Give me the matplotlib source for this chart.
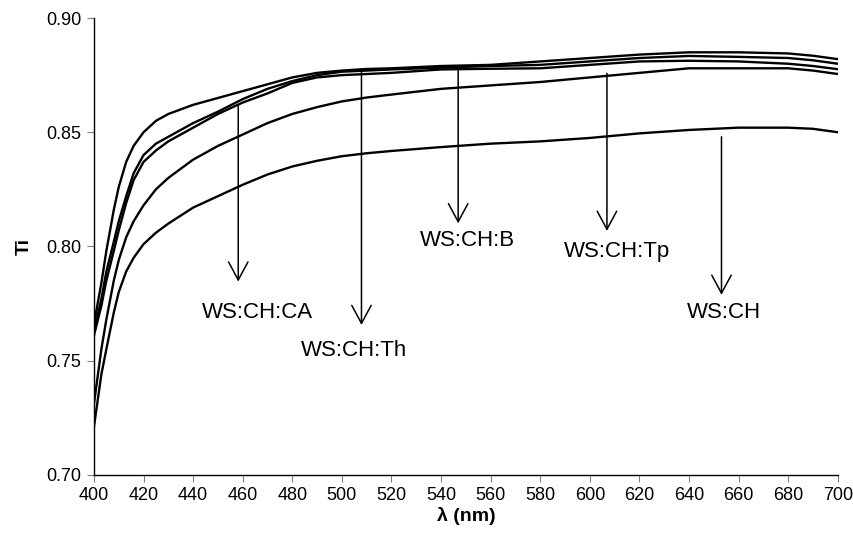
import matplotlib
matplotlib.use("Agg")
import matplotlib.pyplot as plt

plt.rcParams['font.family'] = ['Liberation Sans', 'DejaVu Sans']

# wavelength grid (nm)
wl = [400, 403, 405, 408, 410, 413, 416, 420, 425, 430, 440, 450, 460, 470,
      480, 490, 500, 510, 520, 540, 560, 580, 600, 620, 640, 660, 680, 690, 700]

ti_b = [0.766, 0.784, 0.798, 0.816, 0.826, 0.837, 0.844, 0.850, 0.855, 0.858,
        0.862, 0.865, 0.868, 0.871, 0.874, 0.876, 0.877, 0.8777, 0.878, 0.879,
        0.8795, 0.881, 0.8825, 0.884, 0.885, 0.885, 0.8845, 0.8835, 0.882]
ti_ca = [0.763, 0.777, 0.789, 0.802, 0.811, 0.822, 0.832, 0.840, 0.845, 0.848,
         0.854, 0.859, 0.8645, 0.869, 0.8724, 0.875, 0.8765, 0.877, 0.8775, 0.8783,
         0.879, 0.8795, 0.881, 0.8825, 0.8834, 0.883, 0.8825, 0.8815, 0.880]
ti_th = [0.761, 0.774, 0.785, 0.798, 0.807, 0.819, 0.829, 0.837, 0.842, 0.846,
         0.852, 0.858, 0.863, 0.867, 0.8716, 0.874, 0.875, 0.8755, 0.876, 0.8775,
         0.8778, 0.878, 0.8795, 0.881, 0.8813, 0.881, 0.880, 0.879, 0.8776]
ti_tp = [0.731, 0.755, 0.768, 0.785, 0.794, 0.804, 0.811, 0.818, 0.825, 0.830,
         0.838, 0.844, 0.849, 0.854, 0.858, 0.861, 0.8635, 0.8652, 0.8665, 0.869,
         0.8705, 0.872, 0.874, 0.876, 0.878, 0.878, 0.878, 0.877, 0.8755]
ti_ch = [0.721, 0.744, 0.755, 0.771, 0.780, 0.789, 0.795, 0.801, 0.806, 0.810,
         0.817, 0.822, 0.827, 0.8315, 0.835, 0.8375, 0.8395, 0.8408, 0.8418, 0.8435,
         0.845, 0.846, 0.8475, 0.8495, 0.851, 0.852, 0.852, 0.8515, 0.850]

# annotations: label, arrow x, arrow start y, arrow tip y, text x, text baseline y
labels = ['WS:CH:CA', 'WS:CH:Th', 'WS:CH:B', 'WS:CH:Tp', 'WS:CH']
arrow_x = [458.2, 507.9, 546.9, 606.9, 653.1]
arrow_y0 = [0.862, 0.8765, 0.8787, 0.8758, 0.848]
arrow_y1 = [0.7846, 0.7656, 0.8101, 0.8068, 0.7788]
text_x = [465.9, 504.8, 550.6, 611.1, 654.0]
text_y = [0.7687, 0.7518, 0.8000, 0.7955, 0.7686]

fig = plt.figure(figsize=(8.54, 5.47), dpi=100)
ax = fig.add_axes([0.110, 0.132, 0.871, 0.835])

for s in [ti_b, ti_ca, ti_th, ti_tp, ti_ch]:
    ax.plot(wl, s, color='black', lw=1.7, solid_joinstyle='round')

for lab, x, y0, y1, tx, ty in zip(labels, arrow_x, arrow_y0, arrow_y1, text_x, text_y):
    ax.annotate('', xy=(x, y1), xytext=(x, y0),
                arrowprops=dict(arrowstyle='->,head_length=1.3,head_width=0.7',
                                lw=1.1, color='black', shrinkA=0, shrinkB=0,
                                mutation_scale=10))
    ax.text(tx, ty, lab, ha='center', va='baseline', fontsize=16)

ax.set_xlim(400, 700)
ax.set_ylim(0.70, 0.90)
ax.set_xticks(range(400, 701, 20))
ax.set_yticks([0.70, 0.75, 0.80, 0.85, 0.90])
ax.set_yticklabels(['0.70', '0.75', '0.80', '0.85', '0.90'])
ax.tick_params(axis='both', direction='out', length=5, width=0.8,
               color='#808080', labelsize=13, pad=4)

for side in ['top', 'right']:
    ax.spines[side].set_visible(False)
for side in ['left', 'bottom']:
    ax.spines[side].set_linewidth(1.0)
    ax.spines[side].set_color('black')

ax.set_xlabel('λ (nm)', fontsize=14, fontweight='bold', labelpad=2)
ax.set_ylabel('Ti', fontsize=14, fontweight='bold', labelpad=10)

fig.savefig('out.png', dpi=100)
